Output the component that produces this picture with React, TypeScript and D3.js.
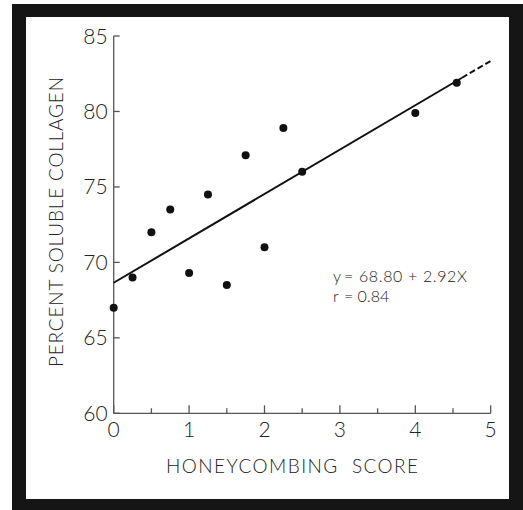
import React from "react";
import * as d3 from "d3";

const scoreX = [0, 0.25, 0.5, 0.75, 1.0, 1.25, 1.5, 1.75, 2.0, 2.25, 2.5, 4.0, 4.55];
const collagenY = [67.0, 69.0, 72.0, 73.5, 69.3, 74.5, 68.5, 77.1, 71.0, 78.9, 76.0, 79.9, 81.9];
const xTicks = [0, 1, 2, 3, 4, 5];
const xMinorTicks = [0.5, 1.5, 2.5, 3.5, 4.5];
const yTicks = [60, 65, 70, 75, 80, 85];
const fitIntercept = 68.65;
const fitSlope = 2.94;
const solidEnd = 4.62;
const equationY = "y";
const equationRest = "= 68.80 + 2.92X";
const corrR = "r";
const corrRest = "= 0.84";

const W = 523;
const H = 510;
const FONT = "Lato, 'Open Sans', sans-serif";
const TEXT = "#222";

export default function App() {
  const x = d3.scaleLinear().domain([0, 5]).range([113.7, 490.7]);
  const y = d3.scaleLinear().domain([60, 85]).range([413.3, 36]);
  const fit = (v: number) => fitIntercept + fitSlope * v;
  const line = d3
    .line<number>()
    .x((d) => x(d))
    .y((d) => y(fit(d)));

  return (
    <svg
      width={W}
      height={H}
      style={{ position: "absolute", left: 0, top: 0, display: "block" }}
    >
      <rect x={0} y={0} width={W} height={H} fill="#ffffff" />
      <rect x={12} y={4} width={W - 12} height={H - 4} fill="#151515" />
      <rect x={26} y={17} width={509 - 26} height={499 - 17} fill="#ffffff" />

      {/* axes */}
      <g stroke="#555" strokeWidth={1.3} fill="none">
        <line x1={x(0)} x2={x(0)} y1={y(85)} y2={y(60)} />
        <line x1={x(0)} x2={x(5)} y1={y(60)} y2={y(60)} />
        {yTicks.map((t) => (
          <line key={"yt" + t} x1={x(0)} x2={x(0) + 6} y1={y(t)} y2={y(t)} />
        ))}
        {xTicks.map((t) => (
          <line key={"xt" + t} x1={x(t)} x2={x(t)} y1={y(60)} y2={y(60) - 8} />
        ))}
        {xMinorTicks.map((t) => (
          <line key={"xm" + t} x1={x(t)} x2={x(t)} y1={y(60)} y2={y(60) - 5} />
        ))}
      </g>

      {/* tick labels */}
      <g fill={TEXT} fontFamily={FONT} fontSize={21} fontWeight={300}>
        {yTicks.map((t) => (
          <text key={"yl" + t} x={x(0) - 6} y={y(t) + 7.5} textAnchor="end">
            {t}
          </text>
        ))}
        {xTicks.map((t) => (
          <text key={"xl" + t} x={x(t)} y={437} textAnchor="middle">
            {t}
          </text>
        ))}
      </g>

      {/* axis titles */}
      <text
        x={292}
        y={473}
        textAnchor="middle"
        fontFamily={FONT}
        fontSize={19}
        fontWeight={300}
        fill={TEXT}
        textLength={252}
        lengthAdjust="spacing"
        xmlSpace="preserve"
      >
        HONEYCOMBING  SCORE
      </text>
      <text
        transform={`translate(63,222) rotate(-90)`}
        textAnchor="middle"
        fontFamily={FONT}
        fontSize={19}
        fontWeight={300}
        fill={TEXT}
        textLength={290}
        lengthAdjust="spacing"
      >
        PERCENT SOLUBLE COLLAGEN
      </text>

      {/* regression line */}
      <path
        d={line([0, solidEnd]) || ""}
        stroke="#111"
        strokeWidth={2}
        fill="none"
      />
      <path
        d={line([solidEnd, 5]) || ""}
        stroke="#111"
        strokeWidth={2}
        fill="none"
        strokeDasharray="6,3"
      />

      {/* points */}
      <g fill="#111">
        {scoreX.map((v, i) => (
          <circle key={"p" + i} cx={x(v)} cy={y(collagenY[i])} r={4} />
        ))}
      </g>

      {/* equation */}
      <g fill={TEXT} fontFamily={FONT} fontSize={16} fontWeight={300}>
        <text x={333} y={282}>{equationY}</text>
        <text x={344} y={282} textLength={123} lengthAdjust="spacing">
          {equationRest}
        </text>
        <text x={333} y={302}>{corrR}</text>
        <text x={344} y={302}>{corrRest}</text>
      </g>
    </svg>
  );
}
